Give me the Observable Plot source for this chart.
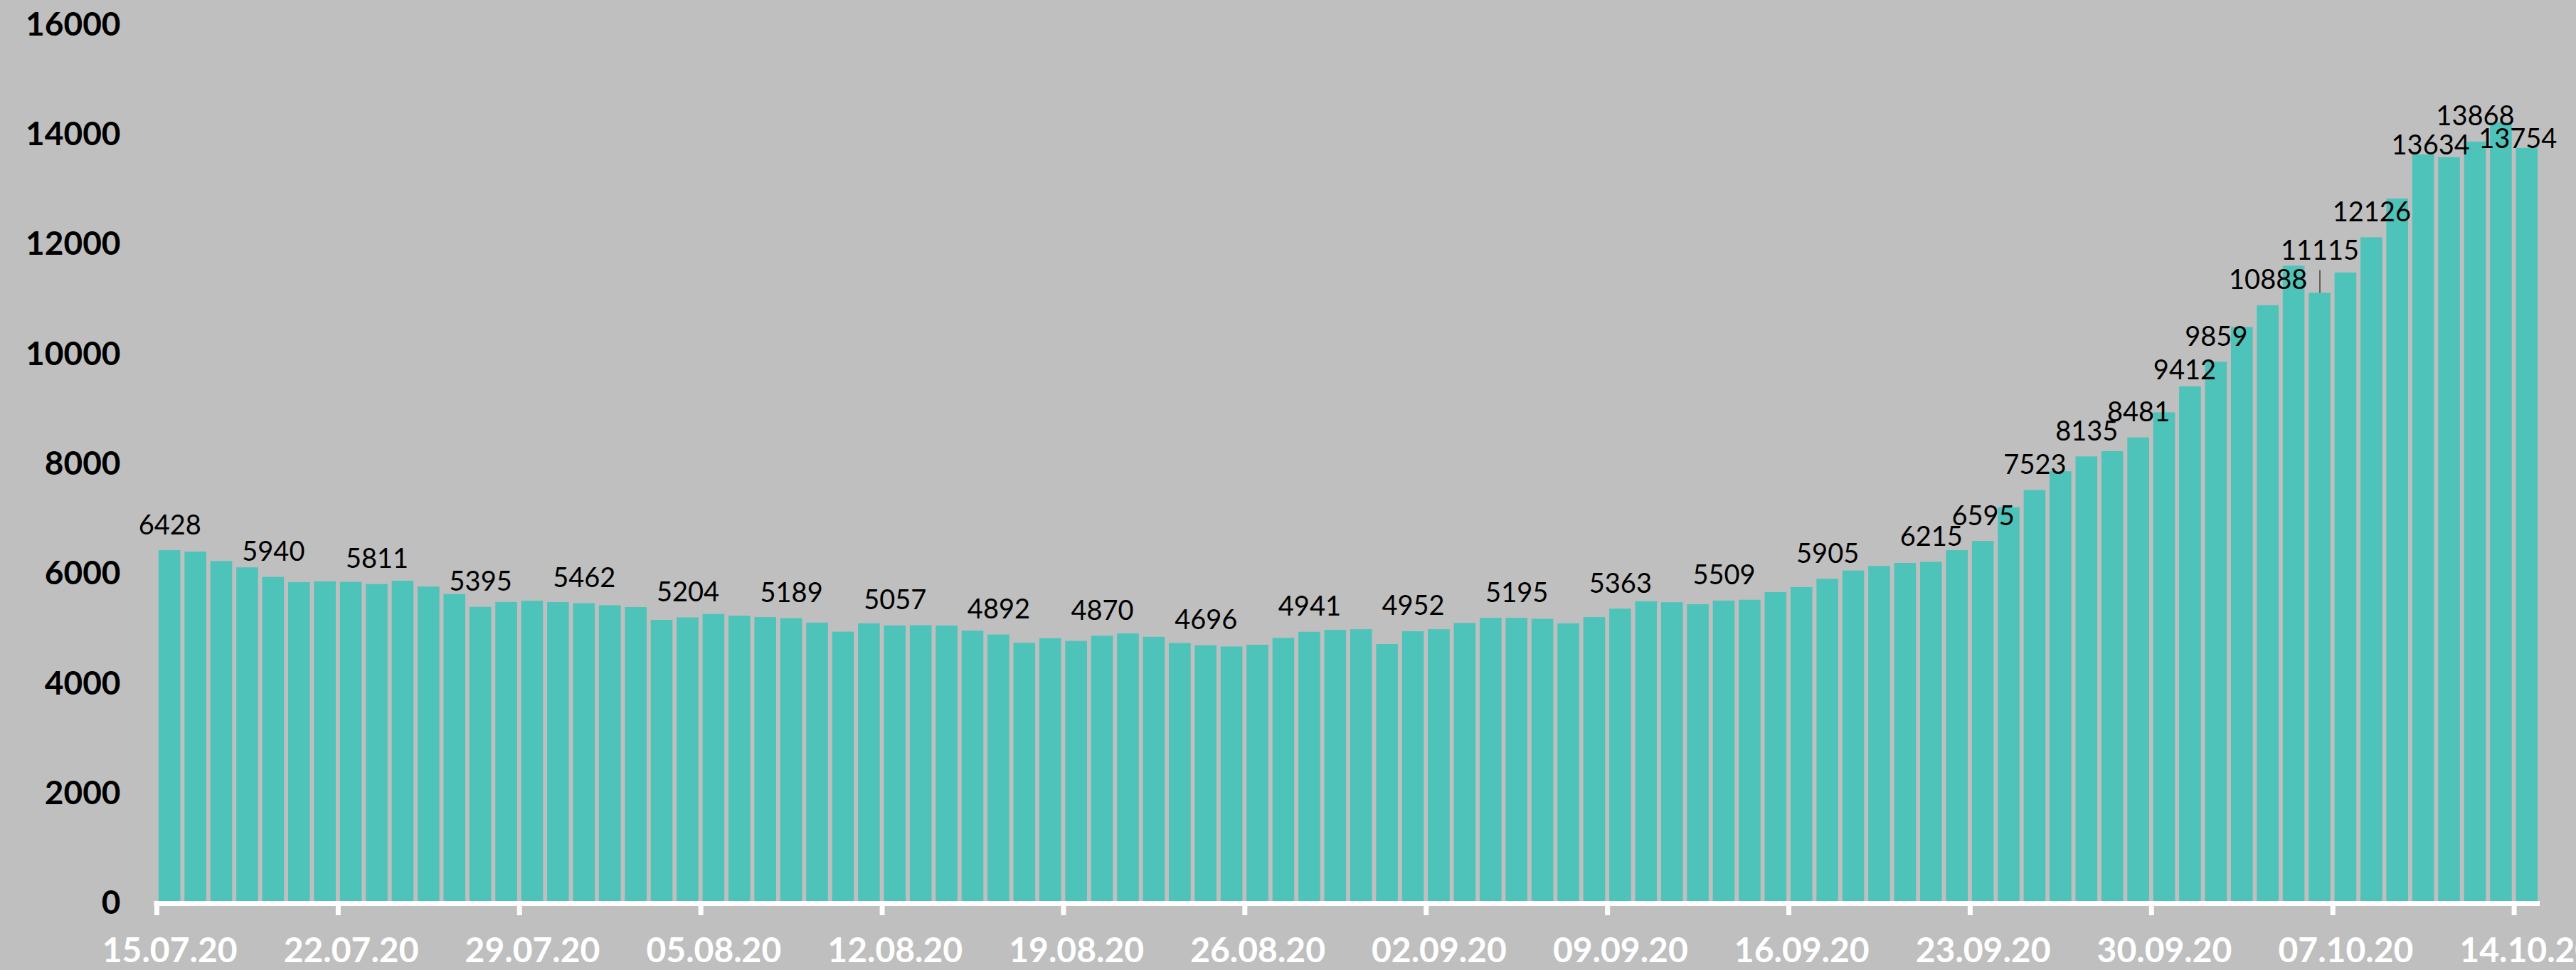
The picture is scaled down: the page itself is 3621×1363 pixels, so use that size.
<!DOCTYPE html>
<html>
<head>
<meta charset="utf-8">
<script src="https://cdn.jsdelivr.net/npm/d3@7"></script>
<script src="https://cdn.jsdelivr.net/npm/@observablehq/plot@0.6"></script>
<style>
  html, body { margin: 0; padding: 0; background: #BFBFBF; overflow: hidden; }
  #chart svg { display: block; }
</style>
</head>
<body>
<div id="chart"></div>
<script>
// ---- data ----
const startDate = "2020-07-15";
const values = [
  6428, 6400, 6230, 6115, 5940, 5845, 5860, 5850, 5811, 5870,
  5765, 5630, 5395, 5485, 5507, 5482, 5462, 5425, 5392, 5159,
  5204, 5265, 5234, 5209, 5189, 5108, 4943, 5095, 5057, 5062,
  5055, 4963, 4892, 4741, 4824, 4774, 4870, 4912, 4849, 4736,
  4696, 4673, 4705, 4831, 4941, 4976, 4988, 4717, 4952, 4988,
  5102, 5196, 5195, 5177, 5095, 5209, 5363, 5498, 5480, 5443,
  5509, 5524, 5665, 5756, 5905, 6057, 6140, 6195, 6215, 6428,
  6595, 7208, 7523, 7865, 8135, 8230, 8481, 8938, 9412, 9859,
  10492, 10888, 11608, 11115, 11484, 12126, 12832, 13634, 13585, 13868,
  14223, 13754
];
const labelIndices = [0, 4, 8, 12, 16, 20, 24, 28, 32, 36, 40, 44, 48, 52, 56, 60, 64,
  68, 70, 72, 74, 76, 78, 79, 81, 83, 85, 87, 89, 91];
const tickLabels = ["15.07.20", "22.07.20", "29.07.20", "05.08.20", "12.08.20", "19.08.20",
  "26.08.20", "02.09.20", "09.09.20", "16.09.20", "23.09.20", "30.09.20", "07.10.20", "14.10.20"];
const yTicks = [0, 2000, 4000, 6000, 8000, 10000, 12000, 14000, 16000];
const leaderIndex = 83;

// ---- layout / style ----
const W = 3621, H = 1363;
const mL = 220, mR = 51, mT = 34.5, mB = 94;
const step = (W - mL - mR) / values.length;
const barColor = "#4EC3BA";
const labelGap = 23;
const labelSize = 38;
// manual label nudges [dx, dy] relative to the standard position (crowded labels)
const labelNudge = {78: [-8, 13], 83: [0, -24], 87: [10, 22], 91: [-13, 23]};

const fmt = d3.utcFormat("%d.%m.%y");
const start = new Date(startDate);
const dates = d3.utcDay.range(start, d3.utcDay.offset(start, values.length)).map(fmt);
const table = values.map((v, i) => ({date: dates[i], value: v, i}));
const labelRows = labelIndices.map(i => table[i]);

const plainLabels = labelRows.filter(d => !(d.i in labelNudge));
const nudgedMarks = Object.entries(labelNudge).map(([k, [dx, dy]]) =>
  Plot.text([table[+k]], {
    x: "date", y: "value", text: d => String(d.value),
    dx, dy: -labelGap + dy, lineAnchor: "bottom",
    fontSize: labelSize, fill: "black"
  })
);

const chart = Plot.plot({
  width: W, height: H,
  marginLeft: mL, marginRight: mR, marginTop: mT, marginBottom: mB,
  style: {background: "#BFBFBF", fontFamily: "Lato, 'Open Sans', sans-serif"},
  x: {type: "band", domain: dates, paddingInner: 0.16, paddingOuter: 0.08, axis: null, label: null},
  y: {domain: [0, 16000], axis: null, label: null},
  marks: [
    Plot.barY(table, {x: "date", y: "value", fill: barColor}),
    Plot.ruleY([0], {stroke: "white", strokeWidth: 7, insetLeft: -3.5}),
    Plot.axisX({ticks: tickLabels, tickSize: 17, stroke: "white", strokeWidth: 7,
      tickFormat: () => "", dx: -step / 2, label: null}),
    Plot.axisX({ticks: tickLabels, tickSize: 0, tickPadding: 48, fontSize: 48,
      fontWeight: "bold", fill: "white", label: null}),
    Plot.axisY({ticks: yTicks, tickSize: 0, tickPadding: 51, fontSize: 46,
      fontWeight: "bold", fill: "black", tickFormat: d3.format("d"), label: null}),
    Plot.text(plainLabels, {
      x: "date", y: "value", text: d => String(d.value),
      dy: -labelGap, lineAnchor: "bottom", fontSize: labelSize, fill: "black"
    }),
    ...nudgedMarks,
    Plot.ruleX([table[leaderIndex]], {x: "date", y1: "value", y2: "value",
      insetTop: -32, stroke: "#404040", strokeWidth: 1.5})
  ]
});
document.getElementById("chart").appendChild(chart);
</script>
</body>
</html>
